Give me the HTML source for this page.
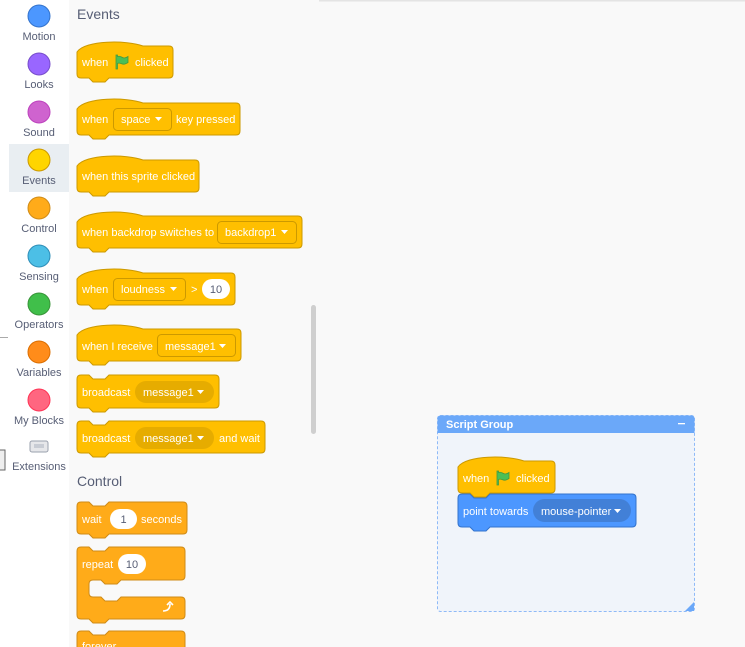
<!DOCTYPE html>
<html><head><meta charset="utf-8"><style>
html,body{margin:0;padding:0;width:745px;height:647px;overflow:hidden;background:#f9f9f9}
svg{display:block}
text{font-family:"Liberation Sans",sans-serif}
.w{fill:#fff;font-size:11px}
.c{fill:#575e75;font-size:11px}
.h{fill:#575e75;font-size:14px}
.d{fill:#575e75;font-size:11px}
</style></head><body>
<svg width="745" height="647" viewBox="0 0 745 647" xmlns="http://www.w3.org/2000/svg">
<defs>
<symbol id="flag" viewBox="0 0 16 16"><path d="M2 1 V15 H3.5 V9.5 C6 8 8 11 11 10 C12.5 9.5 14 8.5 14 8.5 V2.5 C12 4 9.5 4.5 7.5 3 C5.5 1.8 3.5 2.5 3.5 2.5 V1 Z" fill="#4cbf56" stroke="#45993d" stroke-width="0.8"/></symbol>
</defs>
<rect x="0" y="0" width="745" height="647" fill="#f9f9f9"/>
<rect x="319" y="0" width="426" height="1.5" fill="#e4e4e4"/>
<rect x="0" y="0" width="69" height="647" fill="#fff"/>
<rect x="9" y="144" width="60" height="48" fill="#e9eef2"/>
<g stroke-width="1">
<circle cx="39" cy="16" r="11" fill="#4c97ff" stroke="#3373cc"/>
<circle cx="39" cy="64" r="11" fill="#9966ff" stroke="#774dcb"/>
<circle cx="39" cy="112" r="11" fill="#cf63cf" stroke="#bd42bd"/>
<circle cx="39" cy="160" r="11" fill="#ffd500" stroke="#cc9900"/>
<circle cx="39" cy="208" r="11" fill="#ffab19" stroke="#cf8b17"/>
<circle cx="39" cy="256" r="11" fill="#4cbfe6" stroke="#2e8eb8"/>
<circle cx="39" cy="304" r="11" fill="#40bf4a" stroke="#389438"/>
<circle cx="39" cy="352" r="11" fill="#ff8c1a" stroke="#db6e00"/>
<circle cx="39" cy="400" r="11" fill="#ff6680" stroke="#ff3355"/>
</g>
<text class="c" x="39" y="40" text-anchor="middle">Motion</text>
<text class="c" x="39" y="88" text-anchor="middle">Looks</text>
<text class="c" x="39" y="136" text-anchor="middle">Sound</text>
<text class="c" x="39" y="184" text-anchor="middle">Events</text>
<text class="c" x="39" y="232" text-anchor="middle">Control</text>
<text class="c" x="39" y="280" text-anchor="middle">Sensing</text>
<text class="c" x="39" y="328" text-anchor="middle">Operators</text>
<text class="c" x="39" y="376" text-anchor="middle">Variables</text>
<text class="c" x="39" y="424" text-anchor="middle">My Blocks</text>
<rect x="30" y="441" width="18" height="11" rx="2" fill="#e6e7ea" stroke="#9aa0ad"/>
<rect x="34" y="444" width="10" height="4" fill="#c8ccd4"/>
<text class="c" x="39" y="470" text-anchor="middle">Extensions</text>
<rect x="0" y="337" width="8" height="1" fill="#aaa"/>
<rect x="-1" y="450" width="6" height="20" fill="#eee" stroke="#666"/>
<rect x="311" y="305" width="5" height="129" rx="2.5" fill="#cfcfcf"/>
<text class="h" x="77" y="19">Events</text>
<text class="h" x="77" y="486">Control</text>
<g stroke="#cc9900" stroke-width="1" fill="#ffbf00">
<path d="M77,52 C85,40 127,40 143,46 H169 Q173,46 173,50 V74 Q173,78 169,78 H109 L105,82 H93 L89,78 H81 Q77,78 77,74 Z"/>
<path d="M77,109 C85,97 127,97 143,103 H236 Q240,103 240,107 V131 Q240,135 236,135 H109 L105,139 H93 L89,135 H81 Q77,135 77,131 Z"/>
<path d="M77,166 C85,154 127,154 143,160 H195 Q199,160 199,164 V188 Q199,192 195,192 H109 L105,196 H93 L89,192 H81 Q77,192 77,188 Z"/>
<path d="M77,222 C85,210 127,210 143,216 H298 Q302,216 302,220 V244 Q302,248 298,248 H109 L105,252 H93 L89,248 H81 Q77,248 77,244 Z"/>
<path d="M77,279 C85,267 127,267 143,273 H231 Q235,273 235,277 V301 Q235,305 231,305 H109 L105,309 H93 L89,305 H81 Q77,305 77,301 Z"/>
<path d="M77,335 C85,323 127,323 143,329 H237 Q241,329 241,333 V357 Q241,361 237,361 H109 L105,365 H93 L89,361 H81 Q77,361 77,357 Z"/>
<path d="M77,379 Q77,375 81,375 H89 L93,379 H105 L109,375 H215 Q219,375 219,379 V404 Q219,408 215,408 H109 L105,412 H93 L89,408 H81 Q77,408 77,404 Z"/>
<path d="M77,425 Q77,421 81,421 H89 L93,425 H105 L109,421 H261 Q265,421 265,425 V449 Q265,453 261,453 H109 L105,457 H93 L89,453 H81 Q77,453 77,449 Z"/>
<rect x="113.5" y="108.5" width="58" height="22" rx="4"/>
<rect x="217.5" y="221.5" width="79" height="22" rx="4"/>
<rect x="113.5" y="278.5" width="72" height="22" rx="4"/>
<rect x="157.5" y="334.5" width="78" height="22" rx="4"/>
</g>
<rect x="135" y="381" width="79" height="22" rx="11" fill="#e6ac00"/>
<rect x="135" y="427" width="79" height="22" rx="11" fill="#e6ac00"/>
<rect x="202" y="279" width="28" height="20" rx="10" fill="#fff"/>
<use href="#flag" x="114" y="54" width="16" height="16"/>
<text class="w" x="82" y="66">when</text><text class="w" x="135" y="66">clicked</text>
<text class="w" x="82" y="123">when</text><text class="w" x="121" y="123">space</text><text class="w" x="176" y="123">key pressed</text>
<text class="w" x="82" y="180">when this sprite clicked</text>
<text class="w" x="82" y="236">when backdrop switches to</text><text class="w" x="225" y="236">backdrop1</text>
<text class="w" x="82" y="293">when</text><text class="w" x="191" y="293">&gt;</text><text class="w" x="121" y="293">loudness</text><text class="d" x="216" y="293" text-anchor="middle">10</text>
<text class="w" x="82" y="350">when I receive</text><text class="w" x="165" y="350">message1</text>
<text class="w" x="82" y="396">broadcast</text><text class="w" x="143" y="396">message1</text>
<text class="w" x="82" y="442">broadcast</text><text class="w" x="143" y="442">message1</text><text class="w" x="219" y="442">and wait</text>
<g fill="#fff">
<path d="M155,117 h7 l-3.5,4 z"/><path d="M281,230 h7 l-3.5,4 z"/><path d="M170,287 h7 l-3.5,4 z"/>
<path d="M219,344 h7 l-3.5,4 z"/><path d="M197,390 h7 l-3.5,4 z"/><path d="M197,436 h7 l-3.5,4 z"/>
</g>
<g stroke="#cf8b17" fill="#ffab19">
<path d="M77,506 Q77,502 81,502 H89 L93,506 H105 L109,502 H183 Q187,502 187,506 V530 Q187,534 183,534 H109 L105,538 H93 L89,534 H81 Q77,534 77,530 Z"/>
<path d="M77,551 Q77,547 81,547 H89 L93,551 H105 L109,547 H181 Q185,547 185,551 V576 Q185,580 181,580 H121 L117,584 H105 L101,580 H93 Q89,580 89,584 V593 Q89,597 93,597 H101 L105,601 H117 L121,597 H181 Q185,597 185,601 V615 Q185,619 181,619 H109 L105,623 H93 L89,619 H81 Q77,619 77,615 Z"/>
<path d="M77,635 Q77,631 81,631 H89 L93,635 H105 L109,631 H181 Q185,631 185,635 V660 H77 Z"/>
</g>
<rect x="110" y="509" width="27" height="20" rx="10" fill="#fff"/>
<rect x="118" y="554" width="28" height="20" rx="10" fill="#fff"/>
<text class="w" x="82" y="523">wait</text><text class="d" x="123.5" y="523" text-anchor="middle">1</text><text class="w" x="141" y="523">seconds</text>
<text class="w" x="82" y="568">repeat</text><text class="d" x="132" y="568" text-anchor="middle">10</text>
<text class="w" x="82" y="650">forever</text>
<path d="M163,611 Q170,611 170,604 M167,605 l3,-3 l3,3" stroke="#fff" stroke-width="1.6" fill="none"/>
<rect x="437.5" y="415.5" width="257" height="196" rx="3" fill="#f0f4fa" stroke="#8fbaf7" stroke-dasharray="3,2"/>
<path d="M437.5,433 V418.5 Q437.5,415.5 440.5,415.5 H691.5 Q694.5,415.5 694.5,418.5 V433 Z" fill="#6ba8f9"/>
<text x="446" y="428" fill="#fff" font-size="11px" font-weight="bold">Script Group</text>
<rect x="678" y="423" width="7" height="1.3" fill="#fff"/>
<path d="M694,602 V611 H685 Z" fill="#6ba8f9"/>
<path d="M458,467 C466,455 508,455 524,461 H551 Q555,461 555,465 V489 Q555,493 551,493 H490 L486,497 H474 L470,493 H462 Q458,493 458,489 Z" fill="#ffbf00" stroke="#cc9900"/>
<path d="M458,498 Q458,494 462,494 H470 L474,498 H486 L490,494 H632 Q636,494 636,498 V523 Q636,527 632,527 H490 L486,531 H474 L470,527 H462 Q458,527 458,523 Z" fill="#4c97ff" stroke="#3373cc"/>
<rect x="533" y="499" width="98" height="23" rx="11.5" fill="#4280d7"/>
<use href="#flag" x="495" y="470" width="16" height="16"/>
<text class="w" x="463" y="482">when</text><text class="w" x="516" y="482">clicked</text>
<text class="w" x="463" y="515">point towards</text><text class="w" x="541" y="515">mouse-pointer</text>
<path d="M614,509 h7 l-3.5,4 z" fill="#fff"/>
</svg>
</body></html>
